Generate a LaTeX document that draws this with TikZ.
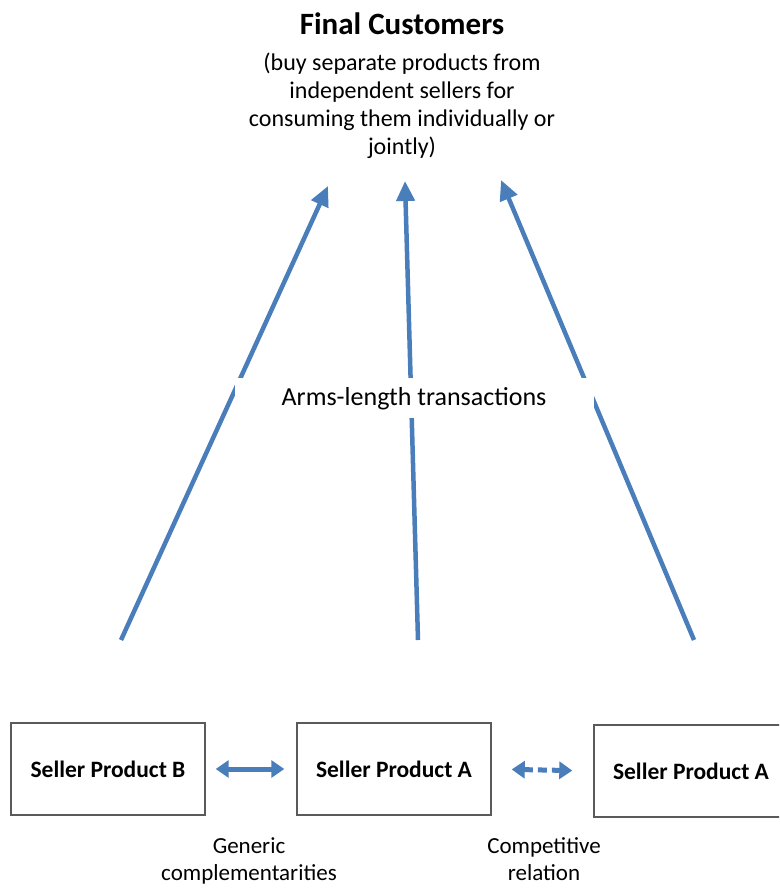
\documentclass[tikz,border=0pt]{standalone}
\usepackage{fontspec}
\setmainfont{Carlito}
\usetikzlibrary{arrows.meta}
\definecolor{arrowblue}{RGB}{74,126,187}
\definecolor{boxgray}{RGB}{90,90,90}
\begin{document}
\begin{tikzpicture}[x=1pt,y=1pt,
  sellerbox/.style={draw=boxgray,line width=1.4pt,minimum width=194pt,minimum height=92pt,inner sep=0pt,font=\fontsize{23.5}{26}\selectfont\bfseries},
  uparrow/.style={draw=arrowblue,line width=4.5pt,-{Triangle[length=20pt,width=18pt]}},
  harrow/.style={draw=arrowblue,line width=5pt,{Triangle[length=13pt,width=17pt]}-{Triangle[length=13pt,width=17pt]}},
  bodytext/.style={align=center,inner sep=0pt,font=\fontsize{24}{28}\selectfont}
]
\useasboundingbox (0,0) rectangle (779,-888);
\clip (0,0) rectangle (779,-888);
% title
\node[font=\fontsize{31}{35}\selectfont\bfseries,anchor=base,inner sep=0pt] (title) at (402,-35) {Final Customers};
\node[bodytext,anchor=north] (sub) at (402,-53) {(buy separate products from\\independent sellers for\\consuming them individually or\\jointly)};
% arrows
\coordinate (s1) at (121,-640); \coordinate (e1) at (328,-186);
\coordinate (s2) at (418,-640); \coordinate (e2) at (405,-181);
\coordinate (s3) at (694,-640); \coordinate (e3) at (501,-180);
\draw[uparrow] (s1) -- (e1);
\draw[uparrow] (s2) -- (e2);
\draw[uparrow] (s3) -- (e3);
% label covering arrows
\node[fill=white,minimum width=359pt,inner sep=0pt,text height=27pt,text depth=13pt,anchor=base,font=\fontsize{26}{30}\selectfont] (lbl) at (414,-405) {Arms-length transactions};
% boxes
\node[sellerbox] (B) at (108,-769) {Seller Product B};
\node[sellerbox] (A1) at (394,-769) {Seller Product A};
\node[sellerbox] (A2) at (691,-771) {Seller Product A};
% horizontal arrows
\draw[harrow,shorten <=10pt,shorten >=12pt] (B.east) -- (A1.west);
\draw[harrow,dash pattern=on 9pt off 5pt,shorten <=20pt,shorten >=21pt] (A1.east) -- (A2.west);
% relation labels
\node[bodytext,anchor=north,font=\fontsize{23}{27}\selectfont] (gen) at (249,-837) {Generic\\complementarities};
\node[bodytext,anchor=north,font=\fontsize{23}{27}\selectfont] (comp) at (544,-837) {Competitive\\relation};
\end{tikzpicture}
\end{document}
